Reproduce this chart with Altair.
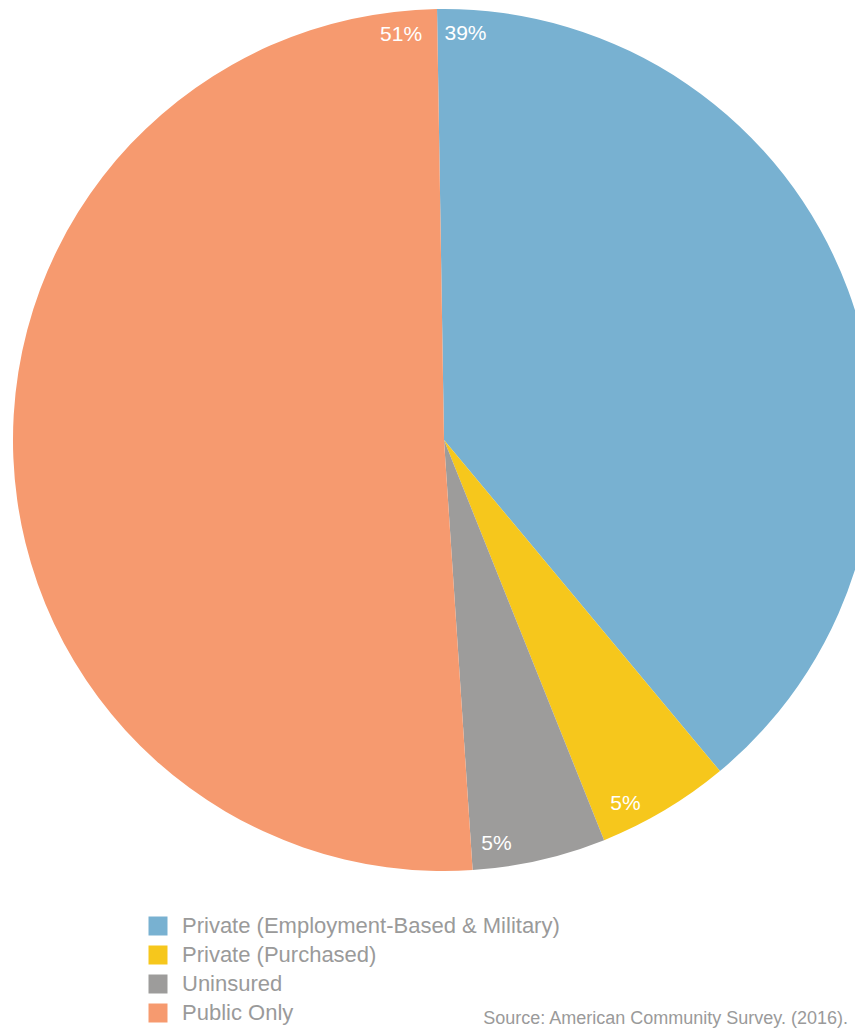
import altair as alt
import pandas as pd
import math

categories = ["Private (Employment-Based & Military)", "Private (Purchased)", "Uninsured", "Public Only"]
values = [39.2, 5.0, 5.0, 50.8]
labels = ["39%", "5%", "5%", "51%"]
colors = ["#78B1D1", "#F6C71C", "#9D9C9B", "#F69A6F"]
source = "Source: American Community Survey. (2016)."

# where along each slice its label sits (fraction of slice)
label_frac = [0.028, 0.74, 0.8, 0.972]

starts = []
acc = 0.0
for v in values:
    starts.append(acc)
    acc += v

df = pd.DataFrame({
    "category": categories,
    "value": values,
    "label": labels,
    "idx": list(range(len(categories))),
    "labpos": [s + f * v for s, f, v in zip(starts, label_frac, values)],
})

FONT = "Liberation Sans, Arial, sans-serif"
start = -0.0162
theta_scale = alt.Scale(domain=[0, 100], range=[start, start + 2 * math.pi])

CX, CY, R = 436, 432, 431

base = alt.Chart(df)

arcs = base.mark_arc(outerRadius=R).encode(
    theta=alt.Theta("value:Q", stack=True, scale=theta_scale),
    order=alt.Order("idx:O"),
    color=alt.Color(
        "category:N",
        scale=alt.Scale(domain=categories, range=colors),
        sort=categories,
        legend=alt.Legend(
            title=None,
            orient="none",
            legendX=139,
            legendY=907,
            symbolType="square",
            symbolSize=361,
            symbolStrokeWidth=0,
            labelFontSize=22,
            labelFont=FONT,
            labelColor="#9a9a9a",
            labelOffset=13,
            rowPadding=7,
            labelLimit=600,
        ),
    ),
    x=alt.value(CX),
    y=alt.value(CY),
)

texts = base.mark_text(radius=407, fontSize=21, font=FONT, color="white", align="center", baseline="middle").encode(
    theta=alt.Theta("labpos:Q", stack=None, scale=theta_scale),
    text="label:N",
    x=alt.value(CX),
    y=alt.value(CY),
)

src = alt.Chart(pd.DataFrame({"t": [source]})).mark_text(
    fontSize=18, font=FONT, color="#9a9a9a", align="right", baseline="alphabetic"
).encode(text="t:N", x=alt.value(840), y=alt.value(1016))

chart = alt.layer(arcs, texts, src).properties(
    width=847, height=1020, padding=0, autosize=alt.AutoSizeParams(type="none")
).configure_view(stroke=None)

chart.save("out.html", embed_options={"renderer": "svg", "actions": False})
